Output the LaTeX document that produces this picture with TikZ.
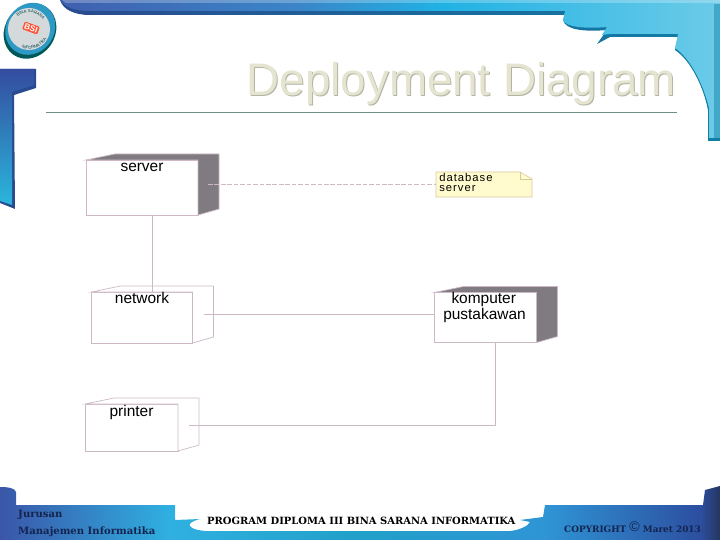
\documentclass[tikz,border=0pt]{standalone}
\usepackage{fontspec}
\setmainfont{Liberation Sans}
\newfontfamily\notefont[LetterSpace=9]{Liberation Sans}
\newfontfamily\footfont{DejaVu Serif}
\usetikzlibrary{positioning, calc, decorations.text}

\definecolor{edgepink}{HTML}{CDB9C6}
\definecolor{sidegray}{HTML}{7F7B80}
\definecolor{notefill}{HTML}{FFFBCF}
\definecolor{noteedge}{HTML}{D8C99A}
\definecolor{titlebeige}{HTML}{E4E4D0}
\definecolor{titleshade}{HTML}{B4B4A4}
\definecolor{ruleline}{HTML}{6F8F80}
\definecolor{banddark}{HTML}{2A4A90}
\definecolor{bandteal}{HTML}{107FA5}
\definecolor{footnavy}{HTML}{14234F}
\definecolor{bandblue}{HTML}{3F5FAE}
\definecolor{bandmid}{HTML}{3A85C8}
\definecolor{bandcyan}{HTML}{20B2E4}
\definecolor{bandlight}{HTML}{6CCBE8}
\definecolor{footblue}{HTML}{3A56A8}
\definecolor{footcyan}{HTML}{2FB0E0}
\definecolor{footteal}{HTML}{20A0C8}
\definecolor{footsky}{HTML}{2F95D5}
\definecolor{footroyal}{HTML}{2C4FA0}
\definecolor{footedge}{HTML}{25355F}
\definecolor{bartop}{HTML}{344C9F}
\definecolor{barmid}{HTML}{3A80C4}
\definecolor{barlow}{HTML}{2AB6DC}

\pgfdeclarehorizontalshading{topband}{100bp}{
    color(0bp)=(bandblue); color(25bp)=(bandblue); color(43bp)=(bandmid);
    color(54bp)=(bandcyan); color(75bp)=(bandlight); color(100bp)=(bandlight)}
\pgfdeclarehorizontalshading{footband}{100bp}{
    color(0bp)=(footblue); color(25bp)=(footblue); color(36.8bp)=(footcyan);
    color(50bp)=(footteal); color(62.8bp)=(footsky); color(73.6bp)=(footroyal);
    color(75bp)=(footedge); color(100bp)=(footedge)}

\begin{document}
\begin{tikzpicture}[
    x=0.03cm, y=-0.03cm,
    font=\fontsize{13.2}{14}\selectfont,
    devbox/.style={
        rectangle,
        draw=edgepink,
        fill=white,
        line width=0.6pt,
        outer sep=0pt
    },
    devlabel/.style={
        inner sep=0pt,
        align=center,
        font=\fontsize{13.2}{10.4}\selectfont
    },
    conn/.style={
        draw=edgepink,
        line width=0.6pt
    },
    foottext/.style={
        inner sep=0pt,
        font=\footfont\bfseries\fontsize{8.6}{11}\selectfont
    }
]
\useasboundingbox (0,0) rectangle (720,540);

% Slide frame
\shade[left color=banddark, right color=bandteal] (60,0) .. controls (63,10) and (75,15) .. (90,15) -- (565,15) -- (563,20)
    .. controls (565,30) and (585,32) .. (607,30) -- (597,44) -- (610,37) -- (678,37)
    -- (675,50) .. controls (690,60) and (703,85) .. (708,110) -- (708,141) -- (720,141) -- (720,0) -- cycle;
\shade[shading=topband] (60,0) .. controls (64,7) and (75,11) .. (90,11) -- (565,11) -- (563,20)
    .. controls (565,27) and (585,29) .. (607,27) -- (602,35) -- (610,34) -- (678,34)
    -- (675,48) .. controls (690,58) and (703,83) .. (709,108) -- (709,138) -- (720,138) -- (720,0) -- cycle;
\fill[white, opacity=0.25] (62,0) -- (720,0) -- (720,3) -- (66,3) -- cycle;
\fill[bandteal, opacity=0.45] (714,4) rectangle (720,138);

\fill[banddark] (0,69) -- (36,69) -- (36,88) -- (14,95) -- (15,209) -- (0,203) -- cycle;
\shade[top color=bartop, middle color=barmid, bottom color=barlow]
    (0,69) -- (34,69) -- (34,85) -- (12,92) -- (12,205) -- (0,201) -- cycle;

\shade[shading=footband] (0,487) .. controls (8,487) and (15,488) .. (16,492) -- (16,505) -- (175,505) -- (175,520)
    -- (200,519) .. controls (192,521) and (188,524) .. (190,526) .. controls (192,529) and (197,530) .. (205,531)
    -- (510,531) .. controls (520,530) and (528,526) .. (530,522) -- (520,520) -- (543,517) -- (545,505)
    -- (703,505) -- (705,490) -- (720,486) -- (720,540) -- (0,540) -- cycle;

% Logo
\fill[teal!70!black, rotate around={-35:(30,31)}] (30,31) ellipse (25 and 29);
\fill[cyan!55!teal, rotate around={-35:(30,31)}] (29,29) ellipse (24 and 27);
\fill[cyan!12!gray!35] (29,29) circle (21);
\node[fill=red!70!orange!80, text=white, rounded corners=1pt, inner sep=1pt, rotate=-20,
    font=\bfseries\fontsize{7}{8}\selectfont] (logobsi) at (31,28) {BSI};
\path[decorate, decoration={text along path, text align=center,
    text={|\fontsize{3.6}{4}\selectfont\color{teal!50!black}|BINA SARANA}}]
    (14.7,20.75) arc[start angle=-150, end angle=-15, radius=16.5];
\path[decorate, decoration={text along path, text align=center,
    text={|\fontsize{3.6}{4}\selectfont\color{teal!50!black}|INFORMATIKA}}]
    (13.7,41.9) arc[start angle=140, end angle=0, radius=20];

% Title
\node[inner sep=0pt, text=titleshade, font=\fontsize{39}{44}\selectfont] (titleshadow) at (462.5,84.5) {Deployment Diagram};
\node[inner sep=0pt, text=titlebeige, font=\fontsize{39}{44}\selectfont] (title) at (461.5,83.5) {Deployment Diagram};
\draw[ruleline, line width=0.7pt] (46,112.5) -- (677,112.5);

% Devices
\node[devbox, minimum width=3.36cm, minimum height=1.65cm] (server) at (142,187.5) {};
\node[devbox, minimum width=3.03cm, minimum height=1.53cm, below=2.31cm of server] (network) {};
\node[devbox, minimum width=3.06cm, minimum height=1.5cm, right=7.26cm of network] (komputer) {};
\node[devbox, minimum width=2.79cm, minimum height=1.41cm, below=1.83cm of network, xshift=-0.315cm] (printer) {};

\foreach \dev/\sidecol in {server/sidegray, network/white, komputer/sidegray, printer/white} {
    \draw[devbox, fill=\sidecol] (\dev.north west) -- ++(29,-6) -- ($(\dev.north east)+(21,-6)$)
        -- ($(\dev.south east)+(21,-6)$) -- (\dev.south east) -- (\dev.north east) -- cycle;
}

\node[devlabel, below=0.09cm of server.north] (serverlabel) {server};
\node[devlabel, below=0cm of network.north] (networklabel) {network};
\node[devlabel, below=0.02cm of printer.north] (printerlabel) {printer};
\node[devlabel, below=0cm of komputer.north, xshift=-0.03cm] (komputerlabel) {\hspace*{-0.1em}komputer\\pustakawan};

% Note
\node[minimum width=2.88cm, minimum height=0.75cm, outer sep=0pt, right=7.14cm of server, yshift=0.09cm] (note) {};
\draw[draw=noteedge, fill=notefill, line width=0.5pt] (note.north west) -- ($(note.north east)+(-12,0)$)
    -- ($(note.north east)+(0,7)$) -- (note.south east) -- (note.south west) -- cycle;
\draw[draw=noteedge, line width=0.5pt] ($(note.north east)+(-12,0)$) -- ($(note.north east)+(-12,7)$) -- ($(note.north east)+(0,7)$);
\node[inner sep=0pt, align=left, anchor=north west, font=\notefont\fontsize{9.6}{8.6}\selectfont] (notetext)
    at ($(note.north west)+(3,1)$) {database\\server};

% Connectors
\draw[conn] ($(server.south)+(10,0)$) -- ($(network.north)+(10,0)$);
\draw[conn, dashed, dash pattern=on 4pt off 1.5pt] ($(server.east)+(10,-3)$) -- (note.west);
\draw[conn] ($(network.east)+(11,-3)$) -- ($(komputer.west)+(0,-3)$);
\draw[conn] ($(komputer.south)+(10,0)$) |- ($(printer.east)+(11,-2.5)$);

% Footer text
\node[foottext, text=footnavy, anchor=west] (jurusan) at (18,515) {Jurusan};
\node[foottext, text=footnavy, anchor=west] (manajemen) at (18,531.5) {Manajemen Informatika};
\node[foottext, anchor=west, font=\footfont\bfseries\fontsize{8.5}{11}\selectfont] (program) at (207,521) {PROGRAM DIPLOMA III BINA SARANA INFORMATIKA};
\node[foottext, text=footnavy, anchor=west, font=\footfont\bfseries\fontsize{7.6}{11}\selectfont] (copyright) at (564,527) {COPYRIGHT \raisebox{1pt}{\fontsize{12}{12}\selectfont\textnormal{©}} Maret 2013};
\end{tikzpicture}
\end{document}
